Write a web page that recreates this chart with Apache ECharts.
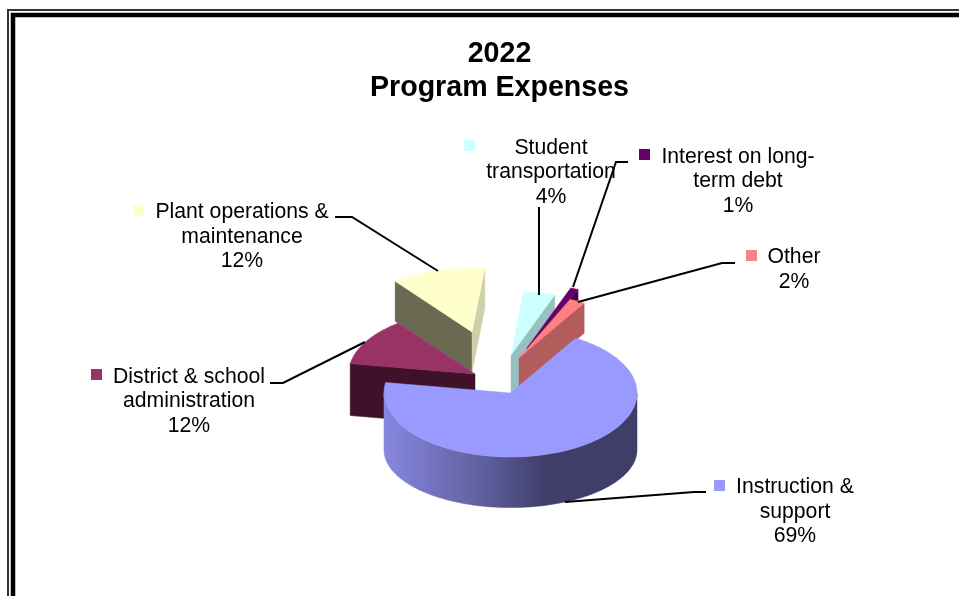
<!DOCTYPE html>
<html>
<head>
<meta charset="utf-8">
<style>html,body{margin:0;padding:0;background:#fff}#c{width:959px;height:596px}</style>
<script src="https://cdn.jsdelivr.net/npm/echarts@6/dist/echarts.min.js"></script>
</head>
<body>
<div id="c"></div>
<script>
// Data
const titleLines = ['2022', 'Program Expenses'];
const categories = ['Instruction &\nsupport', 'District & school\nadministration', 'Plant operations &\nmaintenance', 'Student\ntransportation', 'Interest on long-\nterm debt', 'Other'];
const values = [69, 12, 12, 4, 1, 2];

// Styles
const topColors = ['#9999FF', '#993366', '#FFFFCC', '#CCFFFF', '#660066', '#FF8080'];
const startFaceColors = ['#5c5c99', '#40122A', '#6A6A52', '#7a9999', '#3d003d', '#994d4d'];
const endFaceColors = ['#5c5c99', '#5c1f3d', '#CFCFA8', '#99C0C0', '#4D004D', '#B35C5C'];

// Layout: pie geometry, per-slice explosion shift and extrusion, label placement
const pie = {cx: 510.5, cy: 393, rx: 126.5, ry: 64, startAngle: 31, floorSquash: 0.9};
const shiftX = [0, -35.5, -38.5, 0.5, 16.5, 8.5];
const shiftY = [0, -19, -61, -38, -45, -35];
const depth = [57, 52, 40, 44, 32, 30];
const paintOrder = [5, 1, 0, 2, 3, 4];
const labelX = [795, 189, 242, 551, 738, 794];
const labelY = [512, 401.5, 237, 172.5, 181.5, 269.5];
const keyX = [714, 91, 133, 464, 639, 746];
const keyY = [480, 369, 205, 140, 149, 250];
const leaders = [
  [[706, 492], [694, 492], [565, 502]],
  [[270, 383], [283, 383], [365, 342]],
  [[335, 217], [352, 217], [438, 271]],
  [[539, 207], [539, 295]],
  [[628, 162], [616, 162], [573, 287]],
  [[735, 263], [722, 263], [578, 302]]
];

const total = values.reduce((a, b) => a + b, 0);
function angleRange(i) {
  let before = 0;
  for (let k = 0; k < i; k++) before += values[k];
  return [pie.startAngle + before / total * 360, pie.startAngle + (before + values[i]) / total * 360];
}
function pt(cx, cy, deg) {
  const r = deg * Math.PI / 180;
  return [cx + pie.rx * Math.sin(r), cy - pie.ry * Math.cos(r)];
}
function renderSlice(params, api) {
  const i = params.dataIndex;
  const a = angleRange(i);
  const cx = pie.cx + shiftX[i], cy = pie.cy + shiftY[i], d = depth[i];
  const base = paintOrder[i] * 10;
  const children = [];
  const poly = (points, fill, z) => children.push({
    type: 'polygon', z2: base + z, shape: {points: points},
    style: {fill: fill, stroke: fill, lineWidth: 0.5}
  });
  const down = p => [p[0], p[1] + d];
  const floor = p => [p[0], cy + d + (p[1] - cy) * pie.floorSquash];
  const p0 = pt(cx, cy, a[0]), p1 = pt(cx, cy, a[1]), c = [cx, cy];

  // cut faces that turn towards the viewer
  if (Math.sin(a[0] * Math.PI / 180) < 0) poly([c, p0, down(p0), down(c)], startFaceColors[i], 1);
  if (Math.sin(a[1] * Math.PI / 180) > 0) poly([c, p1, down(p1), down(c)], endFaceColors[i], 2);

  // visible outer wall
  const lo = Math.max(a[0], 90), hi = Math.min(a[1], 270);
  if (hi > lo) {
    const upper = [], lower = [];
    for (let t = lo; t <= hi; t += 1.5) {
      const p = pt(cx, cy, t);
      upper.push(p); lower.unshift(floor(p));
    }
    poly(upper.concat(lower), {
      type: 'linear', x: pie.cx + pie.rx, y: 0, x2: pie.cx - pie.rx, y2: 0, global: true,
      colorStops: [
        {offset: 0, color: '#3E3E68'}, {offset: 0.36, color: '#3E3E68'},
        {offset: 0.6, color: '#5E5E9C'}, {offset: 1, color: '#8787E0'}
      ]
    }, 3);
  }

  // top surface
  const top = [c];
  const steps = Math.max(2, Math.ceil((a[1] - a[0]) / 1.5));
  for (let s = 0; s <= steps; s++) top.push(pt(cx, cy, a[0] + (a[1] - a[0]) * s / steps));
  poly(top, topColors[i], 4);

  // legend key and label
  children.push({type: 'rect', z2: 200, shape: {x: keyX[i], y: keyY[i], width: 11, height: 11},
    style: {fill: topColors[i]}});
  children.push({type: 'text', z2: 200, style: {
    x: labelX[i], y: labelY[i], text: categories[i] + '\n' + api.value(0) + '%',
    fill: '#000', font: '21.2px "Liberation Sans", Arial, sans-serif', lineHeight: 24.6,
    align: 'center', verticalAlign: 'middle'
  }});
  return {type: 'group', children: children};
}

const chart = echarts.init(document.getElementById('c'), null, {renderer: 'canvas'});
const borderGraphics = [
  {type: 'rect', shape: {x: 8, y: 10, width: 2000, height: 2000}, style: {fill: 'none', stroke: '#333', lineWidth: 2}},
  {type: 'rect', shape: {x: 13, y: 15, width: 2000, height: 2000}, style: {fill: 'none', stroke: '#000', lineWidth: 4.5}}
];
const leaderGraphics = leaders.map(points => ({
  type: 'polyline', z: 50, shape: {points: points}, style: {fill: 'none', stroke: '#000', lineWidth: 2}
}));
chart.setOption({
  animation: false,
  backgroundColor: '#fff',
  title: {
    text: titleLines.join('\n'), left: 494.5, top: 32, textAlign: 'center',
    textStyle: {fontFamily: '"Liberation Sans", Arial, sans-serif', fontSize: 28.6, fontWeight: 'bold', color: '#000', lineHeight: 34}
  },
  graphic: borderGraphics.concat(leaderGraphics),
  series: [{
    type: 'custom', coordinateSystem: 'none', silent: true,
    data: values, renderItem: renderSlice, clip: false
  }]
});
</script>
</body>
</html>
